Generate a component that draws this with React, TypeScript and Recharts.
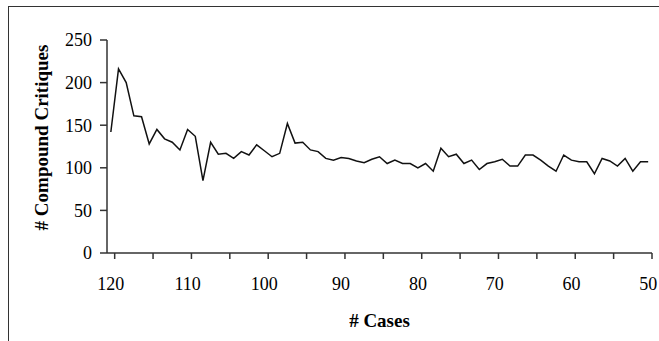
import React from "react";
import { LineChart, Line, XAxis, YAxis } from "recharts";

// # cases, counted down from 120 to 50
const cases = [
  120, 119, 118, 117, 116, 115, 114, 113, 112, 111,
  110, 109, 108, 107, 106, 105, 104, 103, 102, 101,
  100, 99, 98, 97, 96, 95, 94, 93, 92, 91,
  90, 89, 88, 87, 86, 85, 84, 83, 82, 81,
  80, 79, 78, 77, 76, 75, 74, 73, 72, 71,
  70, 69, 68, 67, 66, 65, 64, 63, 62, 61,
  60, 59, 58, 57, 56, 55, 54, 53, 52, 51,
  50,
];

// # compound critiques
const critiques = [
  142, 216, 200, 161, 160, 128, 145, 134, 130, 121,
  145, 137, 85, 130, 116, 117, 111, 119, 115, 127,
  120, 113, 117, 152, 129, 130, 121, 119, 111, 109,
  112, 111, 108, 106, 110, 113, 105, 109, 105, 105,
  100, 105, 96, 123, 113, 116, 105, 109, 98, 105,
  107, 110, 102, 102, 115, 115, 109, 102, 96, 115,
  109, 107, 107, 93, 111, 108, 102, 111, 96, 107,
  107,
];

const xLabels = [120, 110, 100, 90, 80, 70, 60, 50];
// tick marks sit on category boundaries, every 5 cases
const xMarks = [119.5, 114.5, 109.5, 104.5, 99.5, 94.5, 89.5, 84.5, 79.5, 74.5, 69.5, 64.5, 59.5, 54.5, 49.5];
const yTicks = [0, 50, 100, 150, 200, 250];

const data = cases.map((c, i) => ({ cases: c, critiques: critiques[i] }));

const FONT = '"Liberation Serif", "Times New Roman", serif';
const AXIS = "#333";

function CaseTick({ x, y, payload }: any) {
  const v = payload.value;
  if (Number.isInteger(v)) {
    return (
      <text x={x} y={y + 37} textAnchor="middle" fontFamily={FONT} fontSize={18} fill="#000">
        {v}
      </text>
    );
  }
  return <line x1={x} y1={y} x2={x} y2={y + 6} stroke={AXIS} strokeWidth={1.5} />;
}

function YTitle({ viewBox }: any) {
  const cx = viewBox.x + 41;
  const cy = viewBox.y + viewBox.height / 2 - 9;
  return (
    <text
      x={cx}
      y={cy}
      dy="0.35em"
      textAnchor="middle"
      transform={`rotate(-90, ${cx}, ${cy})`}
      fontFamily={FONT}
      fontSize={19}
      fontWeight="bold"
      fill="#000"
    >
      # Compound Critiques
    </text>
  );
}

export default function App() {
  return (
    <div
      style={{
        position: "absolute",
        left: 0,
        top: 0,
        width: 659,
        height: 341,
        overflow: "hidden",
        background: "#fff",
      }}
    >
      {/* outer frame, runs off the right and bottom edges */}
      <div
        style={{
          position: "absolute",
          left: 8,
          top: 6,
          width: 800,
          height: 500,
          border: `1.5px solid ${AXIS}`,
        }}
      />
      <div style={{ position: "absolute", left: 0, top: 0 }}>
        <LineChart
          width={659}
          height={341}
          data={data}
          margin={{ top: 40, right: 7, bottom: 0, left: 0 }}
        >
          <XAxis
            type="number"
            dataKey="cases"
            domain={[49.5, 120.5]}
            reversed
            ticks={[...xLabels, ...xMarks]}
            interval={0}
            tick={<CaseTick />}
            tickLine={false}
            tickSize={0}
            tickMargin={0}
            height={88}
            axisLine={{ stroke: AXIS, strokeWidth: 1.5 }}
            label={{
              value: "# Cases",
              position: "insideBottom",
              offset: 14,
              style: { fontFamily: FONT, fontSize: 19, fontWeight: "bold", fill: "#000" },
            }}
          />
          <YAxis
            type="number"
            domain={[0, 250]}
            ticks={yTicks}
            interval={0}
            width={107}
            tickSize={7}
            tickMargin={8}
            tick={{ fontFamily: FONT, fontSize: 18, fill: "#000" }}
            tickLine={{ stroke: AXIS, strokeWidth: 1.5 }}
            axisLine={{ stroke: AXIS, strokeWidth: 1.5 }}
            label={<YTitle />}
          />
          <Line
            type="linear"
            dataKey="critiques"
            stroke="#111"
            strokeWidth={1.5}
            dot={false}
            isAnimationActive={false}
          />
        </LineChart>
      </div>
    </div>
  );
}
